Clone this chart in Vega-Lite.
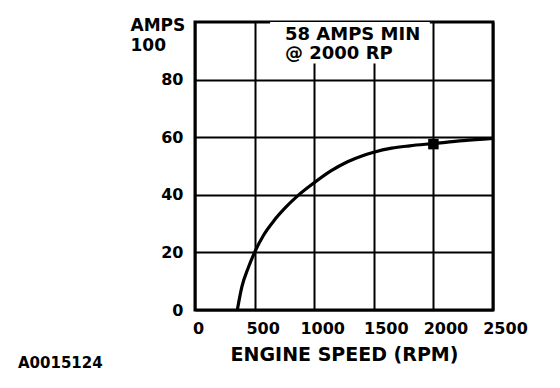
{
  "$schema": "https://vega.github.io/schema/vega-lite/v6.json",
  "width": 298,
  "height": 288,
  "autosize": "none",
  "padding": {"left": 195, "top": 22, "right": 67, "bottom": 78},
  "background": "white",
  "title": {
    "text": "A0015124",
    "orient": "bottom",
    "anchor": "start",
    "frame": "group",
    "dx": -177,
    "dy": -12,
    "offset": 4,
    "font": "DejaVu Sans",
    "fontWeight": "bold",
    "fontSize": 15,
    "color": "black"
  },
  "config": {
    "view": {"stroke": "black", "strokeWidth": 3},
    "axis": {
      "domain": false,
      "ticks": false,
      "grid": true,
      "gridColor": "black",
      "gridWidth": 2,
      "gridOpacity": 1,
      "labelFont": "DejaVu Sans",
      "labelFontWeight": "bold",
      "labelFontSize": 16,
      "labelColor": "black",
      "labelOverlap": false,
      "labelFlush": false,
      "titleFont": "DejaVu Sans",
      "titleFontWeight": "bold",
      "titleColor": "black"
    }
  },
  "datasets": {
    "curve": [
      {"rpm": 355, "amps": 0},
      {"rpm": 393, "amps": 8},
      {"rpm": 450, "amps": 15},
      {"rpm": 500, "amps": 20},
      {"rpm": 580, "amps": 26.3},
      {"rpm": 662, "amps": 31},
      {"rpm": 760, "amps": 35.6},
      {"rpm": 863, "amps": 39.7},
      {"rpm": 1000, "amps": 44.2},
      {"rpm": 1140, "amps": 48.3},
      {"rpm": 1280, "amps": 51.5},
      {"rpm": 1400, "amps": 53.5},
      {"rpm": 1500, "amps": 54.8},
      {"rpm": 1650, "amps": 56.2},
      {"rpm": 1800, "amps": 57},
      {"rpm": 2000, "amps": 57.8},
      {"rpm": 2250, "amps": 58.8},
      {"rpm": 2500, "amps": 59.6}
    ],
    "marker": [{"rpm": 2000, "amps": 57.6}],
    "note": [{"rpm": 755, "amps": 93.9, "label": "58 AMPS MIN\n@ 2000 RP"}],
    "box": [{"rpm": 630, "rpm2": 1970, "amps": 85.6, "amps2": 100}]
  },
  "layer": [
    {
      "data": {"name": "box"},
      "mark": {"type": "rect", "fill": "white", "stroke": null},
      "encoding": {
        "x": {
          "field": "rpm",
          "type": "quantitative",
          "scale": {"domain": [0, 2500], "nice": false},
          "axis": {
            "values": [0, 500, 1000, 1500, 2000, 2500],
            "format": "d",
            "labelOffset": {"condition": [{"test": "datum.value == 0", "value": 3}, {"test": "datum.value >= 1500", "value": 12}], "value": 8},
            "labelPadding": 10,
            "labelBaseline": "top",
            "title": "ENGINE SPEED (RPM)",
            "titleFontSize": 19,
            "titlePadding": 9
          }
        },
        "x2": {"field": "rpm2"},
        "y": {
          "field": "amps",
          "type": "quantitative",
          "scale": {"domain": [0, 100], "nice": false},
          "axis": {
            "values": [0, 20, 40, 60, 80],
            "labelPadding": 12,
            "title": ["AMPS", "100"],
            "titleFontSize": 17,
            "titleAngle": 0,
            "titleAlign": "left",
            "titleBaseline": "alphabetic",
            "titleLineHeight": 20,
            "titleX": -65,
            "titleY": 8
          }
        },
        "y2": {"field": "amps2"}
      }
    },
    {
      "data": {"name": "curve"},
      "mark": {"type": "line", "color": "black", "strokeWidth": 3.2, "interpolate": "monotone"},
      "encoding": {
        "x": {"field": "rpm", "type": "quantitative"},
        "y": {"field": "amps", "type": "quantitative"}
      }
    },
    {
      "data": {"name": "marker"},
      "mark": {"type": "square", "color": "black", "filled": true, "opacity": 1, "size": 110},
      "encoding": {
        "x": {"field": "rpm", "type": "quantitative"},
        "y": {"field": "amps", "type": "quantitative"}
      }
    },
    {
      "data": {"name": "note"},
      "mark": {"type": "text", "align": "left", "baseline": "alphabetic", "lineBreak": "\n", "lineHeight": 19, "font": "DejaVu Sans", "fontWeight": "bold", "fontSize": 18, "color": "black"},
      "encoding": {
        "x": {"field": "rpm", "type": "quantitative"},
        "y": {"field": "amps", "type": "quantitative"},
        "text": {"field": "label"}
      }
    }
  ]
}
